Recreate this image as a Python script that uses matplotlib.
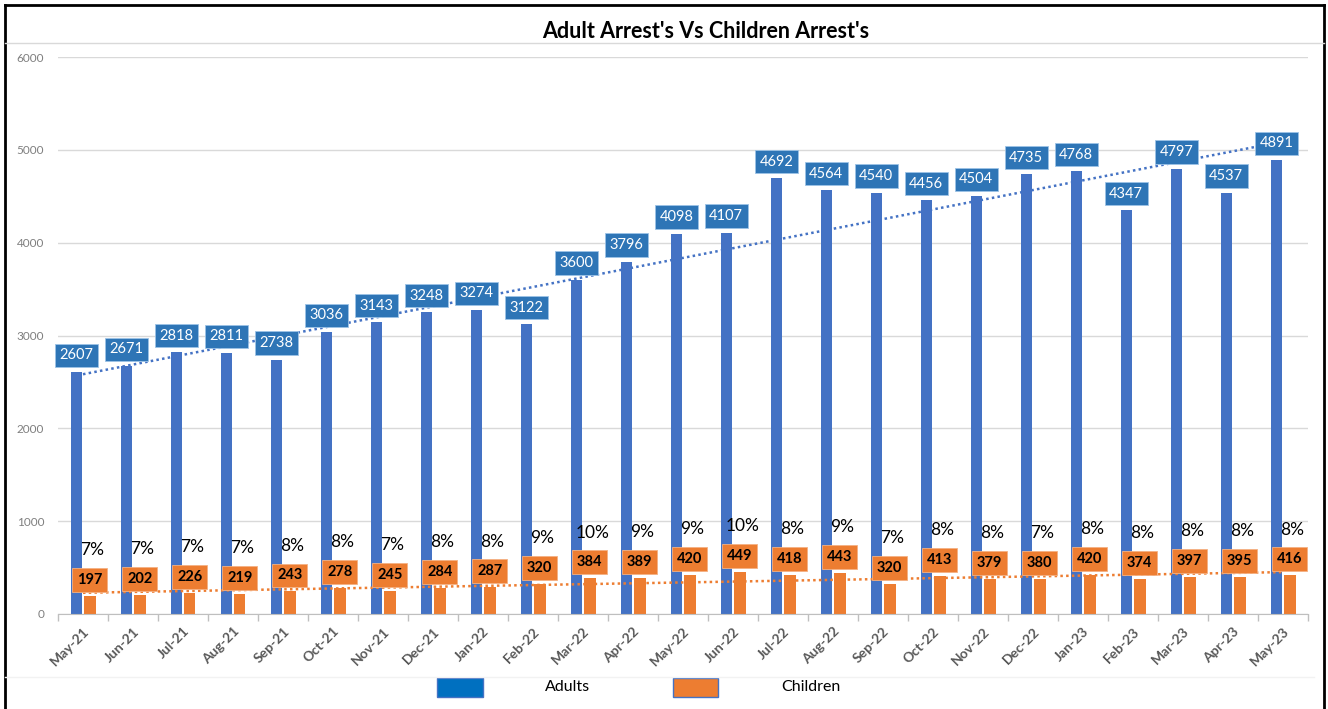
# Adult vs children arrests, monthly bars with trendlines
import numpy as np
import matplotlib.pyplot as plt
from matplotlib.patches import Rectangle
from matplotlib.lines import Line2D

plt.rcParams['font.family'] = ['Lato', 'DejaVu Sans']

# --------------------------------------------------
# data
# --------------------------------------------------
months = ['May-21', 'Jun-21', 'Jul-21', 'Aug-21', 'Sep-21', 'Oct-21', 'Nov-21',
          'Dec-21', 'Jan-22', 'Feb-22', 'Mar-22', 'Apr-22', 'May-22', 'Jun-22',
          'Jul-22', 'Aug-22', 'Sep-22', 'Oct-22', 'Nov-22', 'Dec-22', 'Jan-23',
          'Feb-23', 'Mar-23', 'Apr-23', 'May-23']
adults = [2607, 2671, 2818, 2811, 2738, 3036, 3143, 3248, 3274, 3122, 3600,
          3796, 4098, 4107, 4692, 4564, 4540, 4456, 4504, 4735, 4768, 4347,
          4797, 4537, 4891]
children = [197, 202, 226, 219, 243, 278, 245, 284, 287, 320, 384, 389, 420,
            449, 418, 443, 320, 413, 379, 380, 420, 374, 397, 395, 416]
pct_labels = ['7%', '7%', '7%', '7%', '8%', '8%', '7%', '8%', '8%', '9%',
              '10%', '9%', '9%', '10%', '8%', '9%', '7%', '8%', '8%', '7%',
              '8%', '8%', '8%', '8%', '8%']
yticks = [0, 1000, 2000, 3000, 4000, 5000, 6000]

blue = '#4472C4'
orange = '#ED7D31'
box_blue = '#2E75B6'

# --------------------------------------------------
# figure and axes
# --------------------------------------------------
fig = plt.figure(figsize=(13.28, 7.09), dpi=100)
ax = fig.add_axes([58/1328, 1 - 614/709, 1250/1328, 557/709])

x = np.arange(len(months))
w = 0.23
off = 0.135
ax.bar(x - off, adults, width=w, color=blue, zorder=2)
ax.bar(x + off, children, width=w, color=orange, zorder=2)

# linear trendlines
pa = np.polyfit(x, adults, 1)
pc = np.polyfit(x, children, 1)
ax.plot(x, np.polyval(pa, x), linestyle=(0, (1, 1.3)), color=blue, lw=1.8, zorder=3)
ax.plot(x, np.polyval(pc, x), linestyle=(0, (1, 1.3)), color=orange, lw=1.8, zorder=3)

# data labels
for i in range(len(months)):
    ax.annotate(str(adults[i]), (x[i] - off, adults[i]), xytext=(0, 12),
                textcoords='offset points', ha='center', va='center',
                fontsize=10.5, color='white', zorder=5,
                bbox=dict(boxstyle='square,pad=0.32', fc=box_blue, ec='#9DC3E6', lw=0.6))
    ax.annotate(str(children[i]), (x[i] + off, children[i]), xytext=(0, 11.5),
                textcoords='offset points', ha='center', va='center',
                fontsize=10.5, fontweight='bold', color='black', zorder=5,
                bbox=dict(boxstyle='square,pad=0.34', fc=orange, ec='#F4B183', lw=0.6))
    ax.annotate(pct_labels[i], (x[i] + off, children[i]), xytext=(2, 33),
                textcoords='offset points', ha='center', va='center',
                fontsize=12.5, color='black', zorder=5)

# axes styling
ax.set_ylim(0, 6000)
ax.set_xlim(-0.5, len(months) - 0.5)
ax.set_yticks(yticks)
ax.set_yticklabels([str(v) for v in yticks], fontsize=8.5, color='#7F7F7F')
ax.tick_params(axis='y', length=0, pad=10)
ax.grid(axis='y', color='#D9D9D9', lw=1, zorder=0)
ax.set_axisbelow(True)

ax.set_xticks(x)
ax.set_xticklabels(months, rotation=45, ha='right', rotation_mode='anchor',
                   fontsize=10, fontweight='bold', color='#595959')
ax.tick_params(axis='x', length=0, pad=8)
ax.set_xticks(np.arange(-0.5, len(months)), minor=True)
ax.tick_params(axis='x', which='minor', length=5, color='#BFBFBF', width=1)

for s in ['top', 'right', 'left']:
    ax.spines[s].set_visible(False)
ax.spines['bottom'].set_color('#BFBFBF')

# title
fig.text(706/1328, 1 - 32/709, "Adult Arrest's Vs Children Arrest's",
         ha='center', va='center', fontsize=15.5, fontweight='bold')

# legend at the bottom
fig.add_artist(Rectangle((437/1328, 1 - 697/709), 46/1328, 19/709,
                         transform=fig.transFigure, fc='#0070C0', ec=blue, lw=1))
fig.text(545/1328, 1 - 687/709, 'Adults', ha='left', va='center', fontsize=11.5)
fig.add_artist(Rectangle((673/1328, 1 - 697/709), 45/1328, 19/709,
                         transform=fig.transFigure, fc=orange, ec=blue, lw=1))
fig.text(781/1328, 1 - 687/709, 'Children', ha='left', va='center', fontsize=11.5)

# frame and separator lines
fig.add_artist(Line2D([5/1328, 5/1328], [0, 1 - 5/709], color='black', lw=2))
fig.add_artist(Line2D([1324/1328, 1324/1328], [0, 1 - 5/709], color='black', lw=2))
fig.add_artist(Line2D([5/1328, 1324/1328], [1 - 5/709, 1 - 5/709], color='black', lw=2))
fig.add_artist(Line2D([5/1328, 1324/1328], [1 - 43/709, 1 - 43/709], color='#D9D9D9', lw=1))
fig.add_artist(Line2D([5/1328, 1314/1328], [1 - 677/709, 1 - 677/709], color='#F2F2F2', lw=1))

fig.savefig('out.png', dpi=100)
